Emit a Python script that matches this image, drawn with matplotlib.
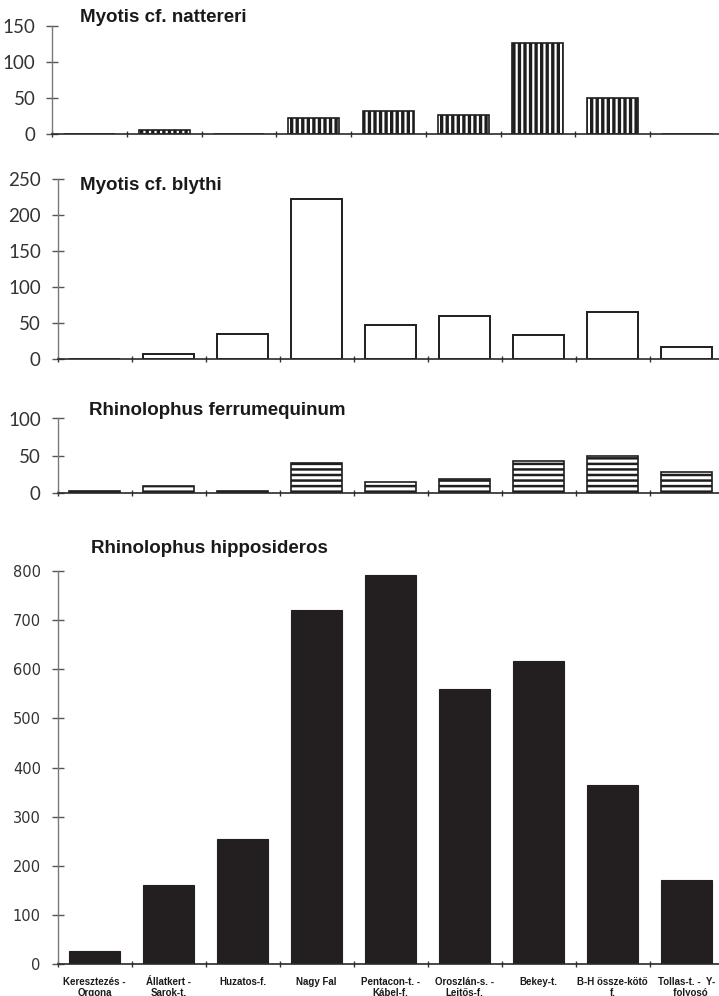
import matplotlib
matplotlib.use("Agg")
import matplotlib.pyplot as plt
from matplotlib import font_manager as fm
import numpy as np

# ---------------- data ----------------
categories = ["Keresztezés -\nOrgona", "Állatkert -\nSarok-t.", "Huzatos-f.", "Nagy Fal",
              "Pentacon-t. -\nKábel-f.", "Oroszlán-s. -\nLejtős-f.", "Bekey-t.",
              "B-H össze-kötő\nf.", "Tollas-t. -  Y-\n   folyosó"]
nattereri = [0, 6, 0, 23, 32, 27, 127, 50, 0]
blythi = [0, 7, 35, 222, 47, 60, 34, 65, 16]
ferrumequinum = [3, 9, 3, 40, 15, 19, 43, 49, 28]
hipposideros = [26, 160, 255, 720, 792, 560, 617, 365, 170]
yticks_nat = [0, 50, 100, 150]
yticks_bly = [0, 50, 100, 150, 200, 250]
yticks_fer = [0, 50, 100]
yticks_hip = [0, 100, 200, 300, 400, 500, 600, 700, 800]
titles = ["Myotis cf. nattereri", "Myotis cf. blythi",
          "Rhinolophus ferrumequinum", "Rhinolophus hipposideros"]

# ---------------- fonts ----------------
avail = {f.name for f in fm.fontManager.ttflist}
tick_font = "Lato" if "Lato" in avail else "DejaVu Sans"

W, H, DPI = 719, 996, 100
fig = plt.figure(figsize=(W / DPI, H / DPI), dpi=DPI)


def ax_at(left, right, top, bottom):
    return fig.add_axes([left / W, 1 - bottom / H, (right - left) / W, (bottom - top) / H])


x = np.arange(len(categories))
BW = 0.68
EDGE = "#1e1e1e"


def style(ax, ymax, yticks, light=True):
    ax.set_xlim(-0.5, len(categories) - 0.5)
    ax.set_ylim(0, ymax)
    for s in ("top", "right"):
        ax.spines[s].set_visible(False)
    ax.spines["left"].set_color("#7a7a7a")
    ax.spines["left"].set_linewidth(1.0)
    ax.spines["bottom"].set_color("#2a2a2a")
    ax.spines["bottom"].set_linewidth(1.2)
    ax.set_xticks(np.arange(-0.5, len(categories) + 0.5, 1.0))
    ax.tick_params(axis="x", direction="inout", length=5, width=1, color="#333333",
                   labelbottom=False)
    ax.set_yticks(yticks)
    ax.tick_params(axis="y", direction="inout", length=8, width=1, color="#555555", pad=8)
    for lab in ax.get_yticklabels():
        if light:
            lab.set_fontfamily(tick_font)
            lab.set_fontweight("normal")
            lab.set_fontsize(13.5)
            lab.set_color("#333333")
        else:
            lab.set_fontfamily("DejaVu Sans")
            lab.set_fontsize(10.5)
            lab.set_color("#333333")
    ax.patch.set_alpha(0)


def hatch_lw(bars, lw):
    for b in bars:
        if hasattr(b, "set_hatch_linewidth"):
            b.set_hatch_linewidth(lw)


# Panel 1
plt.rcParams["hatch.linewidth"] = 2.4
ax1 = ax_at(52.3, 52.3 + 9 * 74.7, 26, 134.3)
bars = ax1.bar(x, nattereri, BW, color="white", edgecolor=EDGE, linewidth=1.2, hatch="|||")
hatch_lw(bars, 2.4)
style(ax1, 150, yticks_nat)

# Panel 2
ax2 = ax_at(57.5, 57.5 + 9 * 74, 179, 359)
ax2.bar(x, blythi, BW, color="white", edgecolor=EDGE, linewidth=1.4)
style(ax2, 250, yticks_bly)

# Panel 3
plt.rcParams["hatch.linewidth"] = 1.8
ax3 = ax_at(57.5, 57.5 + 9 * 74, 418.5, 493)
bars = ax3.bar(x, ferrumequinum, BW, color="white", edgecolor=EDGE, linewidth=1.2, hatch="---")
hatch_lw(bars, 1.8)
style(ax3, 100, yticks_fer)

# Panel 4
ax4 = ax_at(57.5, 57.5 + 9 * 74, 571, 964)
ax4.bar(x, hipposideros, BW, color="#231f20", edgecolor="#231f20", linewidth=0.8)
style(ax4, 800, yticks_hip, light=False)
ax4.set_xticks(x, minor=True)
ax4.set_xticklabels(categories, minor=True)
ax4.tick_params(axis="x", which="minor", length=0, pad=9, labelbottom=True)
for lab in ax4.get_xticklabels(minor=True):
    lab.set_fontfamily("Liberation Sans")
    lab.set_fontweight("bold")
    lab.set_fontsize(7.0)
    lab.set_color("#1a1a1a")
    lab.set_linespacing(1.15)

# Titles
title_pos = [(80, 22.3), (80, 190), (89.3, 415), (90.7, 553.3)]
for t, (tx, ty) in zip(titles, title_pos):
    fig.text(tx / W, 1 - ty / H, t, fontsize=13.5, fontweight="bold",
             family="Liberation Sans", color="#1a1a1a", va="baseline", ha="left")

fig.savefig("out.png", dpi=DPI)
